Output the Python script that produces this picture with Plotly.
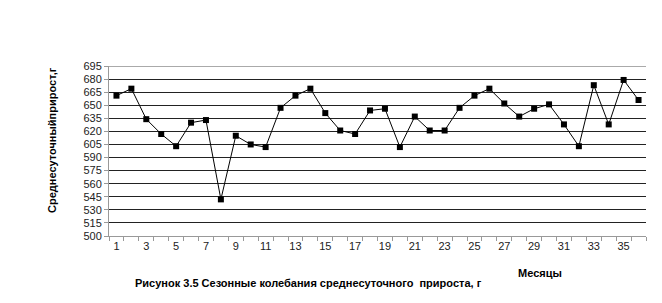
import plotly.graph_objects as go

months = list(range(1, 37))
gain = [661, 669, 634, 617, 603, 630, 633, 542, 615, 605, 602, 647,
        661, 669, 641, 621, 617, 644, 646, 602, 637, 621, 621, 647,
        661, 669, 652, 637, 646, 651, 628, 603, 673, 628, 679, 656]
y_ticks = list(range(500, 696, 15))
x_labels = list(range(1, 37, 2))

FONT = "Liberation Sans, Arial, sans-serif"

fig = go.Figure()
fig.add_trace(go.Scatter(
    x=months, y=gain, mode="lines+markers",
    line=dict(color="black", width=1),
    marker=dict(symbol="square", size=6, color="black"),
    showlegend=False,
))

fig.update_layout(
    width=662, height=303,
    margin=dict(l=109, r=16, t=66, b=67),
    paper_bgcolor="white", plot_bgcolor="white",
    font=dict(family=FONT, size=11, color="black"),
    xaxis=dict(
        range=[0.5, 36.5], tickvals=x_labels, ticktext=[str(v) for v in x_labels],
        ticks="", showgrid=False, zeroline=False,
        showline=True, linecolor="#999999", linewidth=1,
        tickfont=dict(size=11, color="#222222"),
        minor=dict(tick0=0.5, dtick=1, ticks="outside", ticklen=4,
                   tickcolor="#999999", showgrid=False),
    ),
    yaxis=dict(
        range=[500, 695], tickvals=y_ticks, ticks="outside", ticklen=4,
        tickcolor="#999999", showgrid=True, gridcolor="#222222", gridwidth=1,
        zeroline=False, showline=True, linecolor="#999999", linewidth=1,
        tickfont=dict(size=11, color="#222222"),
    ),
    shapes=[dict(type="line", xref="paper", yref="y", x0=0, x1=1, y0=695, y1=695,
                 line=dict(color="#aaaaaa", width=2))],
    annotations=[
        dict(text="<b>Среднесуточныйприрост,г</b>", xref="paper", yref="paper",
             x=(52-109)/537, y=(236-140)/170, textangle=-90, showarrow=False,
             font=dict(size=11), xanchor="center", yanchor="middle"),
        dict(text="<b>Месяцы</b>", xref="paper", yref="paper", x=(540-109)/537,
             y=-(273-236)/170, showarrow=False, font=dict(size=11),
             xanchor="center", yanchor="middle"),
        dict(text="<b>Рисунок 3.5 Сезонные колебания среднесуточного  прироста, г</b>",
             xref="paper", yref="paper", x=(308-109)/537, y=-(283-236)/170,
             showarrow=False, font=dict(size=11), xanchor="center", yanchor="middle"),
    ],
)

fig.write_html("out.html")
